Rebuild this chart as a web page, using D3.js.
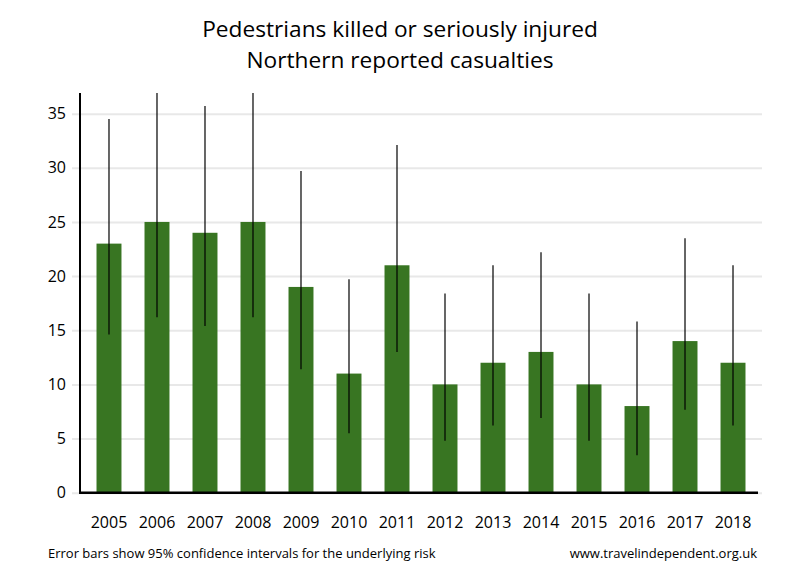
<!DOCTYPE html>
<html>
<head>
	<meta charset="utf-8">
	<title>Pedestrians killed or seriously injured</title>
	<script src="https://cdn.jsdelivr.net/npm/d3@7"></script>
	<style>
		body { margin: 0; background: #fff; }
		text { fill: #000; }
		.title { font-family: 'Open Sans', sans-serif; font-size: 22.7px; }
		.tick-label { font-family: 'Open Sans', sans-serif; font-size: 16px; }
		.note { font-family: 'Liberation Sans Narrow', 'Open Sans', sans-serif; font-size: 13px; }
	</style>
</head>
<body>
	<svg id="chart" width="800" height="580"></svg>
	<script>
		// chart data
		const years = ['2005', '2006', '2007', '2008', '2009', '2010', '2011',
		               '2012', '2013', '2014', '2015', '2016', '2017', '2018'];
		const casualties = [23, 25, 24, 25, 19, 11, 21, 10, 12, 13, 10, 8, 14, 12];
		const lower95 = [14.6, 16.2, 15.4, 16.2, 11.4, 5.5, 13.0, 4.8, 6.2, 6.9, 4.8, 3.45, 7.65, 6.2];
		const upper95 = [34.5, 36.9, 35.7, 36.9, 29.7, 19.7, 32.1, 18.4, 21.0, 22.2, 18.4, 15.8, 23.5, 21.0];
		const yTicks = [0, 5, 10, 15, 20, 25, 30, 35];
		const titleLines = ['Pedestrians killed or seriously injured', 'Northern reported casualties'];

		const svg = d3.select('#chart');
		const plotL = 80, plotR = 762, plotT = 92, plotB = 492.7;

		const x = d3.scaleBand()
			.domain(years)
			.range([plotL, plotR])
			.paddingInner(0.48)
			.paddingOuter(0.344);

		const y = d3.scaleLinear()
			.domain([0, 37])
			.range([plotB, plotT]);

		// gridlines + tick labels
		const yAxis = d3.axisLeft(y)
			.tickValues(yTicks)
			.tickSize(-(plotR - plotL) - 8)
			.tickPadding(6)
			.tickFormat(d3.format('d'));

		const ga = svg.append('g')
			.attr('transform', 'translate(' + (plotL - 8) + ',0)')
			.call(yAxis);
		ga.select('.domain').remove();
		ga.attr('font-family', null).attr('font-size', null);
		ga.selectAll('.tick line')
			.attr('stroke', '#e8e8e8')
			.attr('stroke-width', 2);
		ga.selectAll('.tick text')
			.attr('class', 'tick-label')
			.attr('x', -6);

		// bars
		svg.append('g').selectAll('rect')
			.data(years)
			.join('rect')
			.attr('x', d => x(d))
			.attr('y', (d, i) => y(casualties[i]))
			.attr('width', x.bandwidth())
			.attr('height', (d, i) => y(0) - y(casualties[i]))
			.attr('fill', '#387522');

		// error bars
		svg.append('g').selectAll('line')
			.data(years)
			.join('line')
			.attr('x1', d => x(d) + x.bandwidth() / 2)
			.attr('x2', d => x(d) + x.bandwidth() / 2)
			.attr('y1', (d, i) => y(lower95[i]))
			.attr('y2', (d, i) => y(upper95[i]))
			.attr('stroke', '#000')
			.attr('stroke-width', 1.2);

		// axes lines
		svg.append('line')
			.attr('x1', plotL).attr('x2', plotL)
			.attr('y1', plotT + 1).attr('y2', plotB + 1)
			.attr('stroke', '#000').attr('stroke-width', 2);
		svg.append('line')
			.attr('x1', plotL - 1).attr('x2', plotR - 4)
			.attr('y1', plotB).attr('y2', plotB)
			.attr('stroke', '#000').attr('stroke-width', 2.5);

		// year labels
		const xAxis = d3.axisBottom(x).tickSize(0).tickPadding(0);
		const gx = svg.append('g')
			.attr('transform', 'translate(0,' + plotB + ')')
			.call(xAxis);
		gx.select('.domain').remove();
		gx.attr('font-family', null).attr('font-size', null);
		gx.selectAll('.tick text')
			.attr('class', 'tick-label')
			.attr('dy', null)
			.attr('y', 35);

		// title
		svg.append('g').selectAll('text')
			.data(titleLines)
			.join('text')
			.attr('class', 'title')
			.attr('x', 400)
			.attr('y', (d, i) => 37 + i * 31)
			.attr('text-anchor', 'middle')
			.text(d => d);

		// footnotes
		svg.append('text')
			.attr('class', 'note')
			.attr('x', 48).attr('y', 558)
			.text('Error bars show 95% confidence intervals for the underlying risk');
		svg.append('text')
			.attr('class', 'note')
			.attr('x', 757).attr('y', 558)
			.attr('text-anchor', 'end')
			.text('www.travelindependent.org.uk');
	</script>
</body>
</html>
